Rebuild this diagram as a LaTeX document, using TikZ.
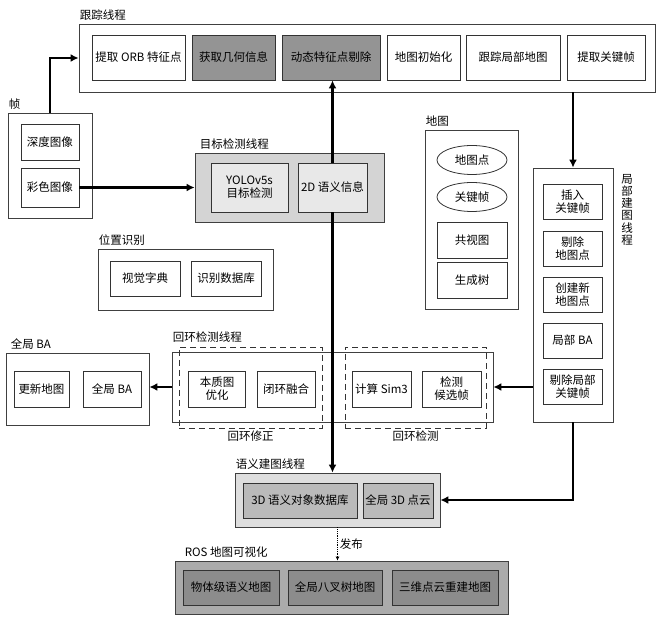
\documentclass[tikz,border=0pt]{standalone}
\usepackage{fontspec}
\setmainfont{Liberation Serif}
\newfontfamily\cjk{Noto Sans CJK SC}
\usepackage{tikz}
\usetikzlibrary{arrows.meta,positioning,calc,shapes.geometric}
\tikzset{
  >=Stealth,
  every node/.append style={font=\cjk\fontsize{11.5}{13}\selectfont},
}

\begin{document}
\begin{tikzpicture}[
  x=1pt, y=-1pt,
  frame/.style={draw=black!75, line width=0.8pt, inner sep=0pt},
  box/.style={draw=black!80, line width=0.8pt, align=center, inner sep=1pt, minimum height=35pt},
  dark/.style={box, fill=black!42},
  title/.style={anchor=south west, inner sep=1pt, yshift=2pt},
  arr/.style={-{Latex[length=8pt,width=8pt]}, line width=2.4pt},
  pub/.style={-{Latex[length=4pt,width=4pt]}, line width=0.8pt, densely dotted},
  zone/.style={draw=black!80, line width=0.8pt, dash pattern=on 6pt off 4pt, inner sep=0pt}
]
\useasboundingbox (0,0) rectangle (662,620);

% Tracking thread
\node[frame, minimum width=576pt, minimum height=68pt] (trk) at (367,58) {};
\node[title] at (trk.north west) {跟踪线程};
\node[box, minimum width=93pt, minimum height=45pt] (orb) at (138.5,57.5) {提取 ORB 特征点};
\node[dark, minimum width=83pt, minimum height=45pt] (geo) at (233.5,57.5) {获取几何信息};
\node[dark, minimum width=98pt, minimum height=45pt] (dyn) at (331,57.5) {动态特征点剔除};
\node[box, minimum width=73pt, minimum height=45pt] (init) at (423.5,57.5) {地图初始化};
\node[box, minimum width=94pt, minimum height=45pt] (tlm) at (513,57.5) {跟踪局部地图};
\node[box, minimum width=78pt, minimum height=45pt] (kf) at (606,57.5) {提取关键帧};

% Input frame
\node[frame, minimum width=84pt, minimum height=105pt] (frm) at (50,165.5) {};
\node[title] at (frm.north west) {帧};
\node[box, minimum width=58pt, minimum height=36pt] (dep) at (50,142) {深度图像};
\node[box, minimum width=58pt, minimum height=39pt] (clr) at (50,187.5) {彩色图像};

% Object detection thread
\node[frame, fill=black!17, minimum width=189pt, minimum height=69pt] (det) at (289.5,187.5) {};
\node[title] at ($(det.north west)+(4,0)$) {目标检测线程};
\node[box, fill=black!9, minimum width=77pt, minimum height=49pt] (yolo) at (249.5,187.5) {YOLOv5s\\目标检测};
\node[box, fill=black!9, minimum width=69pt, minimum height=49pt] (sem2d) at (332.5,187.5) {2D 语义信息};

% Place recognition
\node[frame, minimum width=175pt, minimum height=61pt] (plc) at (185.5,279.5) {};
\node[title] at (plc.north west) {位置识别};
\node[box, minimum width=70pt] (voc) at (145,278.5) {视觉字典};
\node[box, minimum width=70pt] (rdb) at (226,278.5) {识别数据库};

% Map
\node[frame, minimum width=93pt, minimum height=179pt] (map) at (471.5,219.5) {};
\node[title] at (map.north west) {地图};
\node[ellipse, draw=black!80, line width=0.8pt, inner sep=0pt, minimum width=70pt, minimum height=29pt] (mpt) at (472,160) {地图点};
\node[ellipse, draw=black!80, line width=0.8pt, inner sep=0pt, minimum width=70pt, minimum height=29pt] (mkf) at (472,197) {关键帧};
\node[box, minimum width=70pt, minimum height=36pt] (cov) at (472,240) {共视图};
\node[box, minimum width=70pt, minimum height=36pt] (span) at (472,280) {生成树};

% Local mapping thread
\node[frame, minimum width=80pt, minimum height=254pt] (lm) at (573,295) {};
\node[anchor=north, align=center, inner sep=0pt, font=\cjk\fontsize{11.5}{12.2}\selectfont] at (627,174) {局\\部\\建\\图\\线\\程};
\node[box, minimum width=59pt] (ins) at (572.5,201.5) {插入\\关键帧};
\node[box, minimum width=59pt] (cull) at (572.5,248.5) {剔除\\地图点};
\node[box, minimum width=59pt] (newpt) at (572.5,294.5) {创建新\\地图点};
\node[box, minimum width=59pt] (lba) at (572.5,340.5) {局部 BA};
\node[box, minimum width=59pt] (cullkf) at (572.5,386.5) {剔除局部\\关键帧};

% Loop closing thread
\node[frame, minimum width=321pt, minimum height=70pt] (loop) at (332.5,387) {};
\node[title, yshift=6pt] at (loop.north west) {回环检测线程};
\node[zone, minimum width=143pt, minimum height=81pt] (corr) at (250.5,387.5) {};
\node[zone, minimum width=141pt, minimum height=81pt] (ldet) at (415.5,387.5) {};
\node[below, inner sep=2pt] at (corr.south) {回环修正};
\node[below, inner sep=2pt] at (ldet.south) {回环检测};
\node[box, minimum width=57pt, minimum height=36pt] (ess) at (217,389) {本质图\\优化};
\node[box, minimum width=58pt, minimum height=36pt] (fuse) at (286,389) {闭环融合};
\node[box, minimum width=59pt, minimum height=36pt] (sim) at (381.5,389) {计算 Sim3};
\node[box, minimum width=59pt, minimum height=36pt] (cand) at (451.5,389) {检测\\候选帧};

% Global BA
\node[frame, minimum width=143pt, minimum height=72pt] (gbaf) at (77.5,389) {};
\node[title] at ($(gbaf.north west)+(4,0)$) {全局 BA};
\node[box, minimum width=55pt, minimum height=36pt] (upd) at (41.5,389) {更新地图};
\node[box, minimum width=58pt, minimum height=36pt] (gba) at (112,389) {全局 BA};

% Semantic mapping thread
\node[frame, fill=black!13, minimum width=205pt, minimum height=54pt] (sem) at (337.5,500) {};
\node[title] at (sem.north west) {语义建图线程};
\node[box, fill=black!27, minimum width=114pt] (db3d) at (300,500.5) {3D 语义对象数据库};
\node[box, fill=black!27, minimum width=70pt] (pc3d) at (398,500.5) {全局 3D 点云};

% ROS visualisation
\node[frame, fill=black!33, minimum width=333pt, minimum height=53pt] (ros) at (341.5,587.5) {};
\node[title] at ($(ros.north west)+(9,0)$) {ROS 地图可视化};
\node[dark, fill=black!45, minimum width=96pt] (objmap) at (231,587.5) {物体级语义地图};
\node[dark, fill=black!45, minimum width=94pt] (octmap) at (335,587.5) {全局八叉树地图};
\node[dark, fill=black!45, minimum width=106pt] (pcmap) at (445,587.5) {三维点云重建地图};

% Connections
\draw[arr] (frm.north) |- (trk.west);
\draw[arr] (clr.east) -- (det.west);
\draw[arr] (sem2d.north) -- (sem2d.north |- dyn.south);
\draw[arr] (sem2d.south) -- (sem2d.south |- sem.north);
\draw[arr] (lm.north |- trk.south) -- (lm.north);
\draw[arr] (lm.west |- loop.east) -- (loop.east);
\draw[arr] (loop.west) -- (loop.west -| gbaf.east);
\draw[arr] (lm.south) |- (sem.east);
\draw[pub] (sem.south) -- node[right, inner sep=2pt] {发布} (sem.south |- ros.north);

\end{tikzpicture}
\end{document}
